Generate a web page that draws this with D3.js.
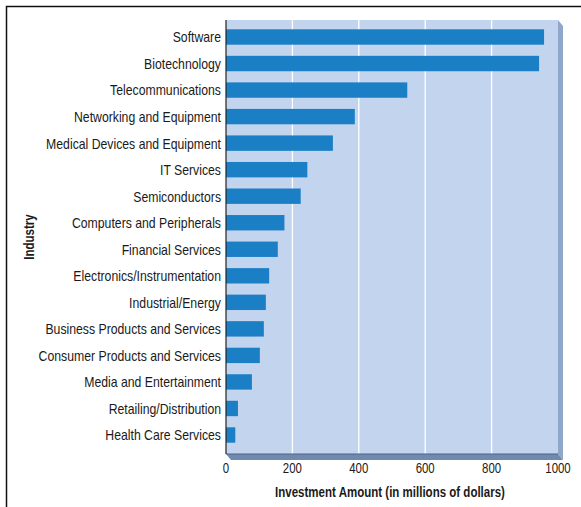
<!DOCTYPE html>
<html>
<head>
<meta charset="utf-8">
<script src="https://cdn.jsdelivr.net/npm/d3@7"></script>
<style>
  body { margin: 0; background: #fff; }
  text { font-family: "Liberation Sans", Arial, sans-serif; }
</style>
</head>
<body>
<div id="chart"></div>
<script>
// industries, top to bottom
let industries = [
  "Software", "Biotechnology", "Telecommunications", "Networking and Equipment",
  "Medical Devices and Equipment", "IT Services", "Semiconductors",
  "Computers and Peripherals", "Financial Services", "Electronics/Instrumentation",
  "Industrial/Energy", "Business Products and Services", "Consumer Products and Services",
  "Media and Entertainment", "Retailing/Distribution", "Health Care Services"
];
// investment in millions of dollars
let amounts = [958, 943, 546, 388, 322, 245, 225, 176, 156, 130, 120, 114, 102, 78, 36, 28];
let xTicks = [0, 200, 400, 600, 800, 1000];

let width = 581, height = 507;
let plotLeft = 226, plotRight = 558, plotTop = 20, plotBottom = 454;
let depthX = 5, depthY = 6;

let svg = d3.select("#chart").append("svg")
  .attr("width", width)
  .attr("height", height);

// the original uses a condensed face; squeeze a normal one to match
function measure(str, size, weight) {
  let probe = svg.append("text").attr("font-size", size).attr("font-weight", weight).text(str);
  let w = probe.node().getComputedTextLength();
  probe.remove();
  return w;
}
let squeeze = 175 / measure("Medical Devices and Equipment", 15, "normal");
let titleSqueeze = 230 / measure("Investment Amount (in millions of dollars)", 14, "bold");

function placeText(sel, fx, fy, s) {
  sel.attr("transform", (d, i) => `translate(${fx(d, i)},${fy(d, i)}) scale(${s},1)`);
}

// outer frame
svg.append("rect")
  .attr("x", 6.5).attr("y", 6.5)
  .attr("width", 590).attr("height", 520)
  .attr("fill", "none")
  .attr("stroke", "#111")
  .attr("stroke-width", 1.5);

let x = d3.scaleLinear().domain([0, 1000]).range([plotLeft, plotRight]);
let y = d3.scaleBand().domain(industries).range([plotTop + 4, plotBottom - 6]).paddingInner(0.42).paddingOuter(0.2);

// 3d side and bottom of the panel
svg.append("polygon")
  .attr("points", [[plotRight, plotTop], [plotRight + depthX, plotTop + depthY], [plotRight + depthX, plotBottom + depthY], [plotRight, plotBottom]].join(" "))
  .attr("fill", "#8ea7cb");
svg.append("polygon")
  .attr("points", [[plotLeft, plotBottom], [plotRight, plotBottom], [plotRight + depthX, plotBottom + depthY], [plotLeft + depthX, plotBottom + depthY]].join(" "))
  .attr("fill", "#7089ae");

// panel
svg.append("rect")
  .attr("x", plotLeft).attr("y", plotTop)
  .attr("width", plotRight - plotLeft).attr("height", plotBottom - plotTop)
  .attr("fill", "#c3d4ee");

// grid lines
svg.selectAll(".grid")
  .data(xTicks.filter(d => d > 0 && d < 1000))
  .enter()
  .append("line")
  .attr("x1", d => x(d)).attr("x2", d => x(d))
  .attr("y1", plotTop).attr("y2", plotBottom)
  .attr("stroke", "#fff")
  .attr("stroke-width", 1.3);

// bottom edge
svg.append("line")
  .attr("x1", plotLeft).attr("x2", plotRight)
  .attr("y1", plotBottom).attr("y2", plotBottom)
  .attr("stroke", "#4e6283")
  .attr("stroke-width", 1.2);

// bars
svg.selectAll(".bar")
  .data(industries)
  .enter()
  .append("rect")
  .attr("x", x(0))
  .attr("y", d => y(d))
  .attr("width", (d, i) => x(amounts[i]) - x(0))
  .attr("height", y.bandwidth())
  .attr("fill", "#1b7fc5");

// y axis line
svg.append("line")
  .attr("x1", plotLeft).attr("x2", plotLeft)
  .attr("y1", plotTop).attr("y2", plotBottom)
  .attr("stroke", "#222")
  .attr("stroke-width", 1.2);

// category labels
let cats = svg.selectAll(".cat")
  .data(industries)
  .enter()
  .append("text")
  .attr("dy", "0.36em")
  .attr("text-anchor", "end")
  .attr("font-size", 15)
  .attr("fill", "#1a1a1a")
  .text(d => d);
placeText(cats, () => plotLeft - 5, d => y(d) + y.bandwidth() / 2, squeeze);

// x tick labels
let ticks = svg.selectAll(".tick")
  .data(xTicks)
  .enter()
  .append("text")
  .attr("text-anchor", "middle")
  .attr("font-size", 14)
  .attr("fill", "#1a1a1a")
  .text(d => d);
placeText(ticks, d => x(d), () => 473, squeeze);

// axis titles
let xTitle = svg.append("text")
  .datum(0)
  .attr("text-anchor", "middle")
  .attr("font-size", 14)
  .attr("font-weight", "bold")
  .attr("fill", "#1a1a1a")
  .text("Investment Amount (in millions of dollars)");
placeText(xTitle, () => 390, () => 497, titleSqueeze);

svg.append("text")
  .attr("transform", `translate(34, 237) rotate(-90) scale(${titleSqueeze},1)`)
  .attr("text-anchor", "middle")
  .attr("font-size", 14)
  .attr("font-weight", "bold")
  .attr("fill", "#1a1a1a")
  .text("Industry");
</script>
</body>
</html>
